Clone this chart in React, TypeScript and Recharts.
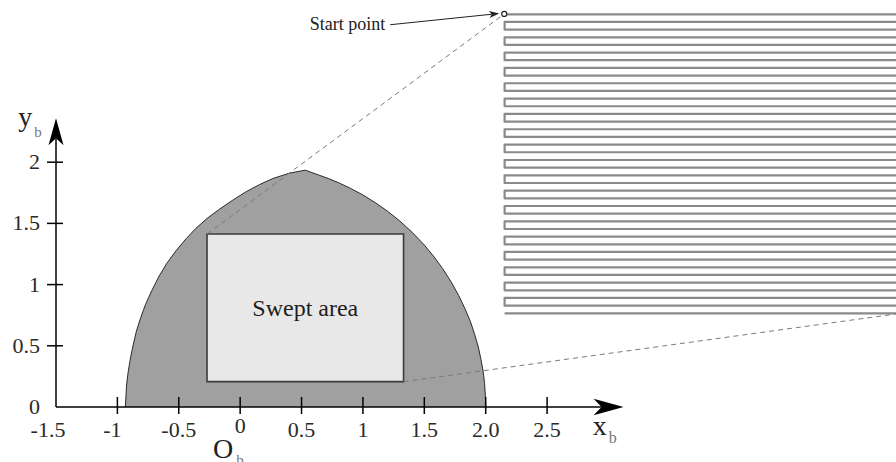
import React from "react"
import {
  ComposedChart,
  Area,
  Line,
  XAxis,
  YAxis,
  ReferenceArea,
  ReferenceLine,
  ReferenceDot,
} from "recharts"

const SERIF = '"Liberation Serif", "Times New Roman", serif'

// boundary of the grey reachable region, left arc then right arc (x_b, y_b)
const boundaryX = [
  -0.935, -0.93, -0.925, -0.913, -0.897, -0.873, -0.845, -0.81, -0.77, -0.72, -0.665, -0.6,
  -0.52, -0.44, -0.36, -0.27, -0.17, -0.06, 0.05, 0.16, 0.27, 0.4, 0.53,
  0.64, 0.72, 0.8, 0.9, 1.0, 1.1, 1.2, 1.3, 1.4, 1.5, 1.58, 1.65, 1.72, 1.78, 1.83, 1.875,
  1.91, 1.94, 1.96, 1.978, 1.99, 1.997, 2.0,
]
const boundaryY = [
  0, 0.09, 0.18, 0.28, 0.38, 0.5, 0.62, 0.73, 0.84, 0.95, 1.06, 1.17,
  1.28, 1.375, 1.46, 1.54, 1.615, 1.69, 1.76, 1.818, 1.868, 1.91, 1.935,
  1.895, 1.866, 1.833, 1.786, 1.732, 1.67, 1.6, 1.52, 1.428, 1.323, 1.226, 1.13, 1.02, 0.91, 0.806, 0.7,
  0.593, 0.49, 0.395, 0.3, 0.2, 0.1, 0,
]

// swept rectangle corners
const sweptX = [-0.27, 1.331]
const sweptY = [0.207, 1.413]

// raster path (zoomed view): row heights, left turn x, right edge x
const rasterRows = [
  3.208, 3.146, 3.083, 3.02, 2.958, 2.895, 2.833, 2.77, 2.707, 2.645,
  2.582, 2.519, 2.457, 2.394, 2.331, 2.269, 2.206, 2.143, 2.081, 2.018,
  1.956, 1.893, 1.83, 1.768, 1.705, 1.642, 1.58, 1.517, 1.454, 1.392,
  1.329, 1.267, 1.204, 1.141, 1.079, 1.016, 0.953, 0.891, 0.828, 0.765,
]
const rasterX = [2.154, 5.5]
const startPoint = [2.151, 3.211]
const zoomCorner = [5.342, 0.76]

const xTicks = [-1.5, -1, -0.5, 0, 0.5, 1, 1.5, 2, 2.5]
const xTickLabels = ["-1.5", "-1", "-0.5", "0", "0.5", "1", "1.5", "2.0", "2.5"]
const yTicks = [0, 0.5, 1, 1.5, 2]
const yTickLabels = ["0", "0.5", "1", "1.5", "2"]
const xAxisEnd = 3.123
const yAxisEnd = 2.359

const shapeData = boundaryX.map((x, i) => ({ x, y: boundaryY[i] }))
const rasterData = rasterRows.flatMap((y, i) =>
  i % 2 === 0
    ? [{ x: rasterX[0], y }, { x: rasterX[1], y }]
    : [{ x: rasterX[1], y }, { x: rasterX[0], y }]
)

const XTick = ({ x, y, payload }: any) => {
  const v = payload.value
  const label = xTickLabels[xTicks.indexOf(v)]
  const dx = v === -1.5 ? -8 : v === -1 ? -5 : 0
  const dy = v === 0 ? -4 : 0
  return (
    <g>
      {v !== -1.5 && <line x1={x} x2={x} y1={y - 10} y2={y + 7} stroke="#000" strokeWidth={1.5} />}
      <text x={x + dx} y={y + 30 + dy} textAnchor="middle" fontFamily={SERIF} fontSize={22} fill="#2a2a2a">
        {label}
      </text>
    </g>
  )
}

const YTick = ({ x, y, payload }: any) => {
  const v = payload.value
  const label = yTickLabels[yTicks.indexOf(v)]
  return (
    <g>
      {v !== 0 && <line x1={x - 9} x2={x + 7} y1={y} y2={y} stroke="#000" strokeWidth={1.5} />}
      <text x={x - 16} y={y + 7} textAnchor="end" fontFamily={SERIF} fontSize={22} fill="#2a2a2a">
        {label}
      </text>
    </g>
  )
}

const arrowShape = (len: number, half: number, notch: number, color: string, width: number) => (p: any) => {
  const { x1, y1, x2, y2 } = p
  const a = Math.atan2(y2 - y1, x2 - x1)
  const c = Math.cos(a)
  const s = Math.sin(a)
  const pt = (u: number, v: number) => `${x2 + u * c - v * s},${y2 + u * s + v * c}`
  return (
    <g>
      <line x1={x1} y1={y1} x2={x2 - (len - notch) * c} y2={y2 - (len - notch) * s} stroke={color} strokeWidth={width} />
      <polygon points={[pt(0, 0), pt(-len, -half), pt(-len + notch, 0), pt(-len, half)].join(" ")} fill={color} />
    </g>
  )
}

const subLabel = (main: string, sub: string, size: number, subSize: number, subDx: number, subDy: number, anchor = "start") =>
  (p: any) => (
    <text x={p.cx} y={p.cy} fontFamily={SERIF} fontSize={size} fill="#222" textAnchor={anchor}>
      {main}
      {sub && (
        <tspan fontSize={subSize} fill="#777" dx={subDx} dy={subDy}>
          {sub}
        </tspan>
      )}
    </text>
  )

export default function App() {
  return (
    <div style={{ width: 896, height: 462 }}>
      <style>{`body{margin:0}`}</style>
      <ComposedChart width={896} height={462} data={shapeData} margin={{ top: 0, right: 0, bottom: 0, left: 0 }}>
        <XAxis
          type="number"
          dataKey="x"
          domain={[-1.5, 5.342]}
          allowDataOverflow
          ticks={xTicks}
          interval={0}
          height={55}
          axisLine={false}
          tickLine={false}
          tickSize={0}
          tickMargin={0}
          tick={(p: any) => <XTick {...p} />}
        />
        <YAxis
          type="number"
          domain={[0, 3.325]}
          allowDataOverflow
          ticks={yTicks}
          interval={0}
          width={56}
          axisLine={false}
          tickLine={false}
          tickSize={0}
          tickMargin={0}
          tick={(p: any) => <YTick {...p} />}
        />
        <Area
          type="linear"
          dataKey="y"
          fill="#a0a0a0"
          fillOpacity={1}
          stroke="#2a2a2a"
          strokeWidth={1}
          strokeLinejoin="round"
          dot={false}
          activeDot={false}
          isAnimationActive={false}
        />
        <ReferenceArea
          x1={sweptX[0]}
          x2={sweptX[1]}
          y1={sweptY[0]}
          y2={sweptY[1]}
          fill="#e8e8e8"
          fillOpacity={1}
          stroke="#3a3a3a"
          strokeWidth={1.6}
          ifOverflow="visible"
          label={{ value: "Swept area", position: "center", fontSize: 24, fill: "#1e1e1e", fontFamily: SERIF }}
        />
        <Line
          data={rasterData}
          dataKey="y"
          type="linear"
          stroke="#8a8a8a"
          strokeWidth={2.2}
          strokeLinejoin="round"
          dot={false}
          activeDot={false}
          isAnimationActive={false}
        />
        <ReferenceLine
          segment={[{ x: sweptX[0], y: sweptY[1] }, { x: startPoint[0], y: startPoint[1] }]}
          stroke="#7a7a7a"
          strokeDasharray="5 4"
          ifOverflow="visible"
        />
        <ReferenceLine
          segment={[{ x: sweptX[1], y: sweptY[0] }, { x: zoomCorner[0], y: zoomCorner[1] }]}
          stroke="#7a7a7a"
          strokeDasharray="5 4"
          ifOverflow="visible"
        />
        <ReferenceLine
          segment={[{ x: -1.5, y: 0 }, { x: xAxisEnd, y: 0 }]}
          ifOverflow="visible"
          shape={arrowShape(30, 8.3, 8, "#000", 1.5)}
        />
        <ReferenceLine
          segment={[{ x: -1.5, y: 0 }, { x: -1.5, y: yAxisEnd }]}
          ifOverflow="visible"
          shape={arrowShape(27, 7.5, 7, "#000", 1.5)}
        />
        <ReferenceLine
          segment={[{ x: 1.222, y: 3.123 }, { x: 2.11, y: 3.215 }]}
          ifOverflow="visible"
          shape={arrowShape(10, 3.5, 2.5, "#222", 1)}
        />
        <ReferenceDot
          x={startPoint[0]}
          y={startPoint[1]}
          r={2.5}
          fill="#fff"
          stroke="#222"
          strokeWidth={1.2}
          ifOverflow="visible"
        />
        <ReferenceDot x={1.182} y={3.076} r={0} ifOverflow="visible" shape={subLabel("Start point", "", 18, 0, 0, 0, "end")} />
        <ReferenceDot x={-1.807} y={2.296} r={0} ifOverflow="visible" shape={subLabel("y", "b", 28, 15, 2, 11)} />
        <ReferenceDot x={2.872} y={-0.229} r={0} ifOverflow="visible" shape={subLabel("x", "b", 28, 16, 2, 8)} />
        <ReferenceDot x={-0.222} y={-0.417} r={0} ifOverflow="visible" shape={subLabel("O", "b", 28, 15, 3, 7)} />
      </ComposedChart>
    </div>
  )
}
